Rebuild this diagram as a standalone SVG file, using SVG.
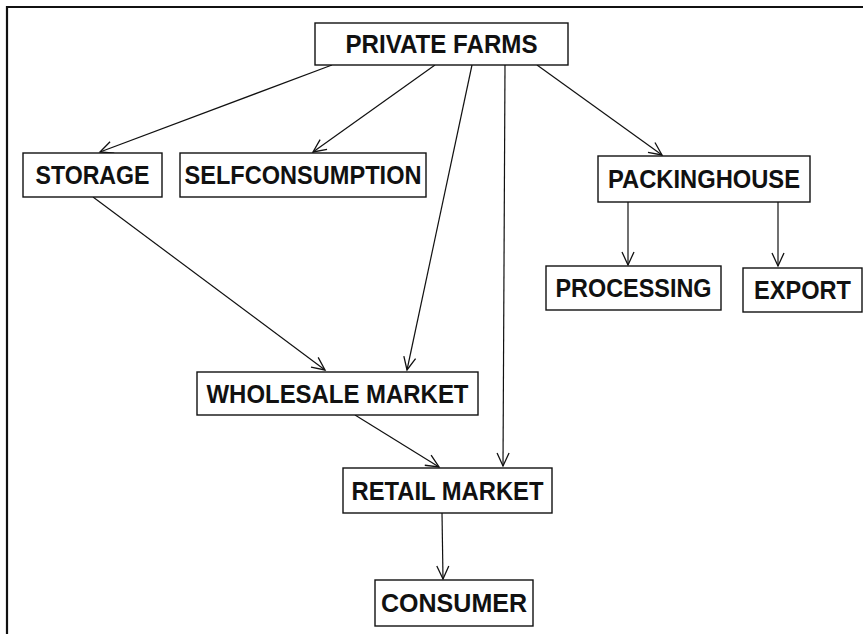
<svg xmlns="http://www.w3.org/2000/svg" width="863" height="634" viewBox="0 0 863 634">
  <defs>
    <style>
      .box { fill: #ffffff; stroke: #111111; stroke-width: 1.4; }
      .label { font-family: "Liberation Sans", Arial, sans-serif; font-weight: bold; font-size: 25px; fill: #111111; text-anchor: middle; }
      .edge { fill: none; stroke: #111111; stroke-width: 1.2; marker-end: url(#open-arrow); }
      .frame { fill: none; stroke: #111111; stroke-width: 2.2; }
    </style>
    <marker id="open-arrow" viewBox="-14 -8 16 16" refX="0" refY="0" markerWidth="16" markerHeight="16" markerUnits="userSpaceOnUse" orient="auto">
      <path d="M-13,-6 L0,0 L-13,6" fill="none" stroke="#111111" stroke-width="1.3"/>
    </marker>
  </defs>

  <rect width="863" height="634" fill="#ffffff"/>

  <!-- page frame: top and left rules -->
  <path class="frame" d="M7,634 L7,7 L863,7"/>

  <!-- connectors -->
  <g id="connectors">
    <line class="edge" x1="332" y1="65" x2="100" y2="152"/>
    <line class="edge" x1="435" y1="65" x2="313" y2="152"/>
    <line class="edge" x1="472" y1="65" x2="407" y2="370"/>
    <line class="edge" x1="505" y1="65" x2="503" y2="466"/>
    <line class="edge" x1="537" y1="65" x2="662" y2="155"/>
    <line class="edge" x1="93" y1="197" x2="325" y2="370"/>
    <line class="edge" x1="628" y1="202" x2="628" y2="265"/>
    <line class="edge" x1="778" y1="202" x2="778" y2="266"/>
    <line class="edge" x1="355" y1="415" x2="439" y2="467"/>
    <line class="edge" x1="442" y1="513" x2="443" y2="579"/>
  </g>

  <g id="private-farms">
    <rect class="box" x="315" y="23" width="253" height="42"/>
    <text class="label" x="441.5" y="53" textLength="192" lengthAdjust="spacingAndGlyphs">PRIVATE FARMS</text>
  </g>
  <g id="storage">
    <rect class="box" x="23" y="153" width="139" height="44"/>
    <text class="label" x="92.5" y="184" textLength="114" lengthAdjust="spacingAndGlyphs">STORAGE</text>
  </g>
  <g id="selfconsumption">
    <rect class="box" x="180" y="153" width="246" height="44"/>
    <text class="label" x="303" y="184" textLength="237" lengthAdjust="spacingAndGlyphs">SELFCONSUMPTION</text>
  </g>
  <g id="packinghouse">
    <rect class="box" x="598" y="156" width="212" height="46"/>
    <text class="label" x="704" y="188" textLength="192" lengthAdjust="spacingAndGlyphs">PACKINGHOUSE</text>
  </g>
  <g id="processing">
    <rect class="box" x="546" y="266" width="175" height="44"/>
    <text class="label" x="633.5" y="297" textLength="156" lengthAdjust="spacingAndGlyphs">PROCESSING</text>
  </g>
  <g id="export">
    <rect class="box" x="743" y="268" width="119" height="44"/>
    <text class="label" x="802.5" y="299" textLength="97" lengthAdjust="spacingAndGlyphs">EXPORT</text>
  </g>
  <g id="wholesale-market">
    <rect class="box" x="197" y="372" width="281" height="43"/>
    <text class="label" x="337.5" y="402.5" textLength="262" lengthAdjust="spacingAndGlyphs">WHOLESALE MARKET</text>
  </g>
  <g id="retail-market">
    <rect class="box" x="343" y="468" width="209" height="45"/>
    <text class="label" x="447.5" y="499.5" textLength="192" lengthAdjust="spacingAndGlyphs">RETAIL MARKET</text>
  </g>
  <g id="consumer">
    <rect class="box" x="375" y="580" width="158" height="46"/>
    <text class="label" x="454" y="612" textLength="146" lengthAdjust="spacingAndGlyphs">CONSUMER</text>
  </g>
</svg>
